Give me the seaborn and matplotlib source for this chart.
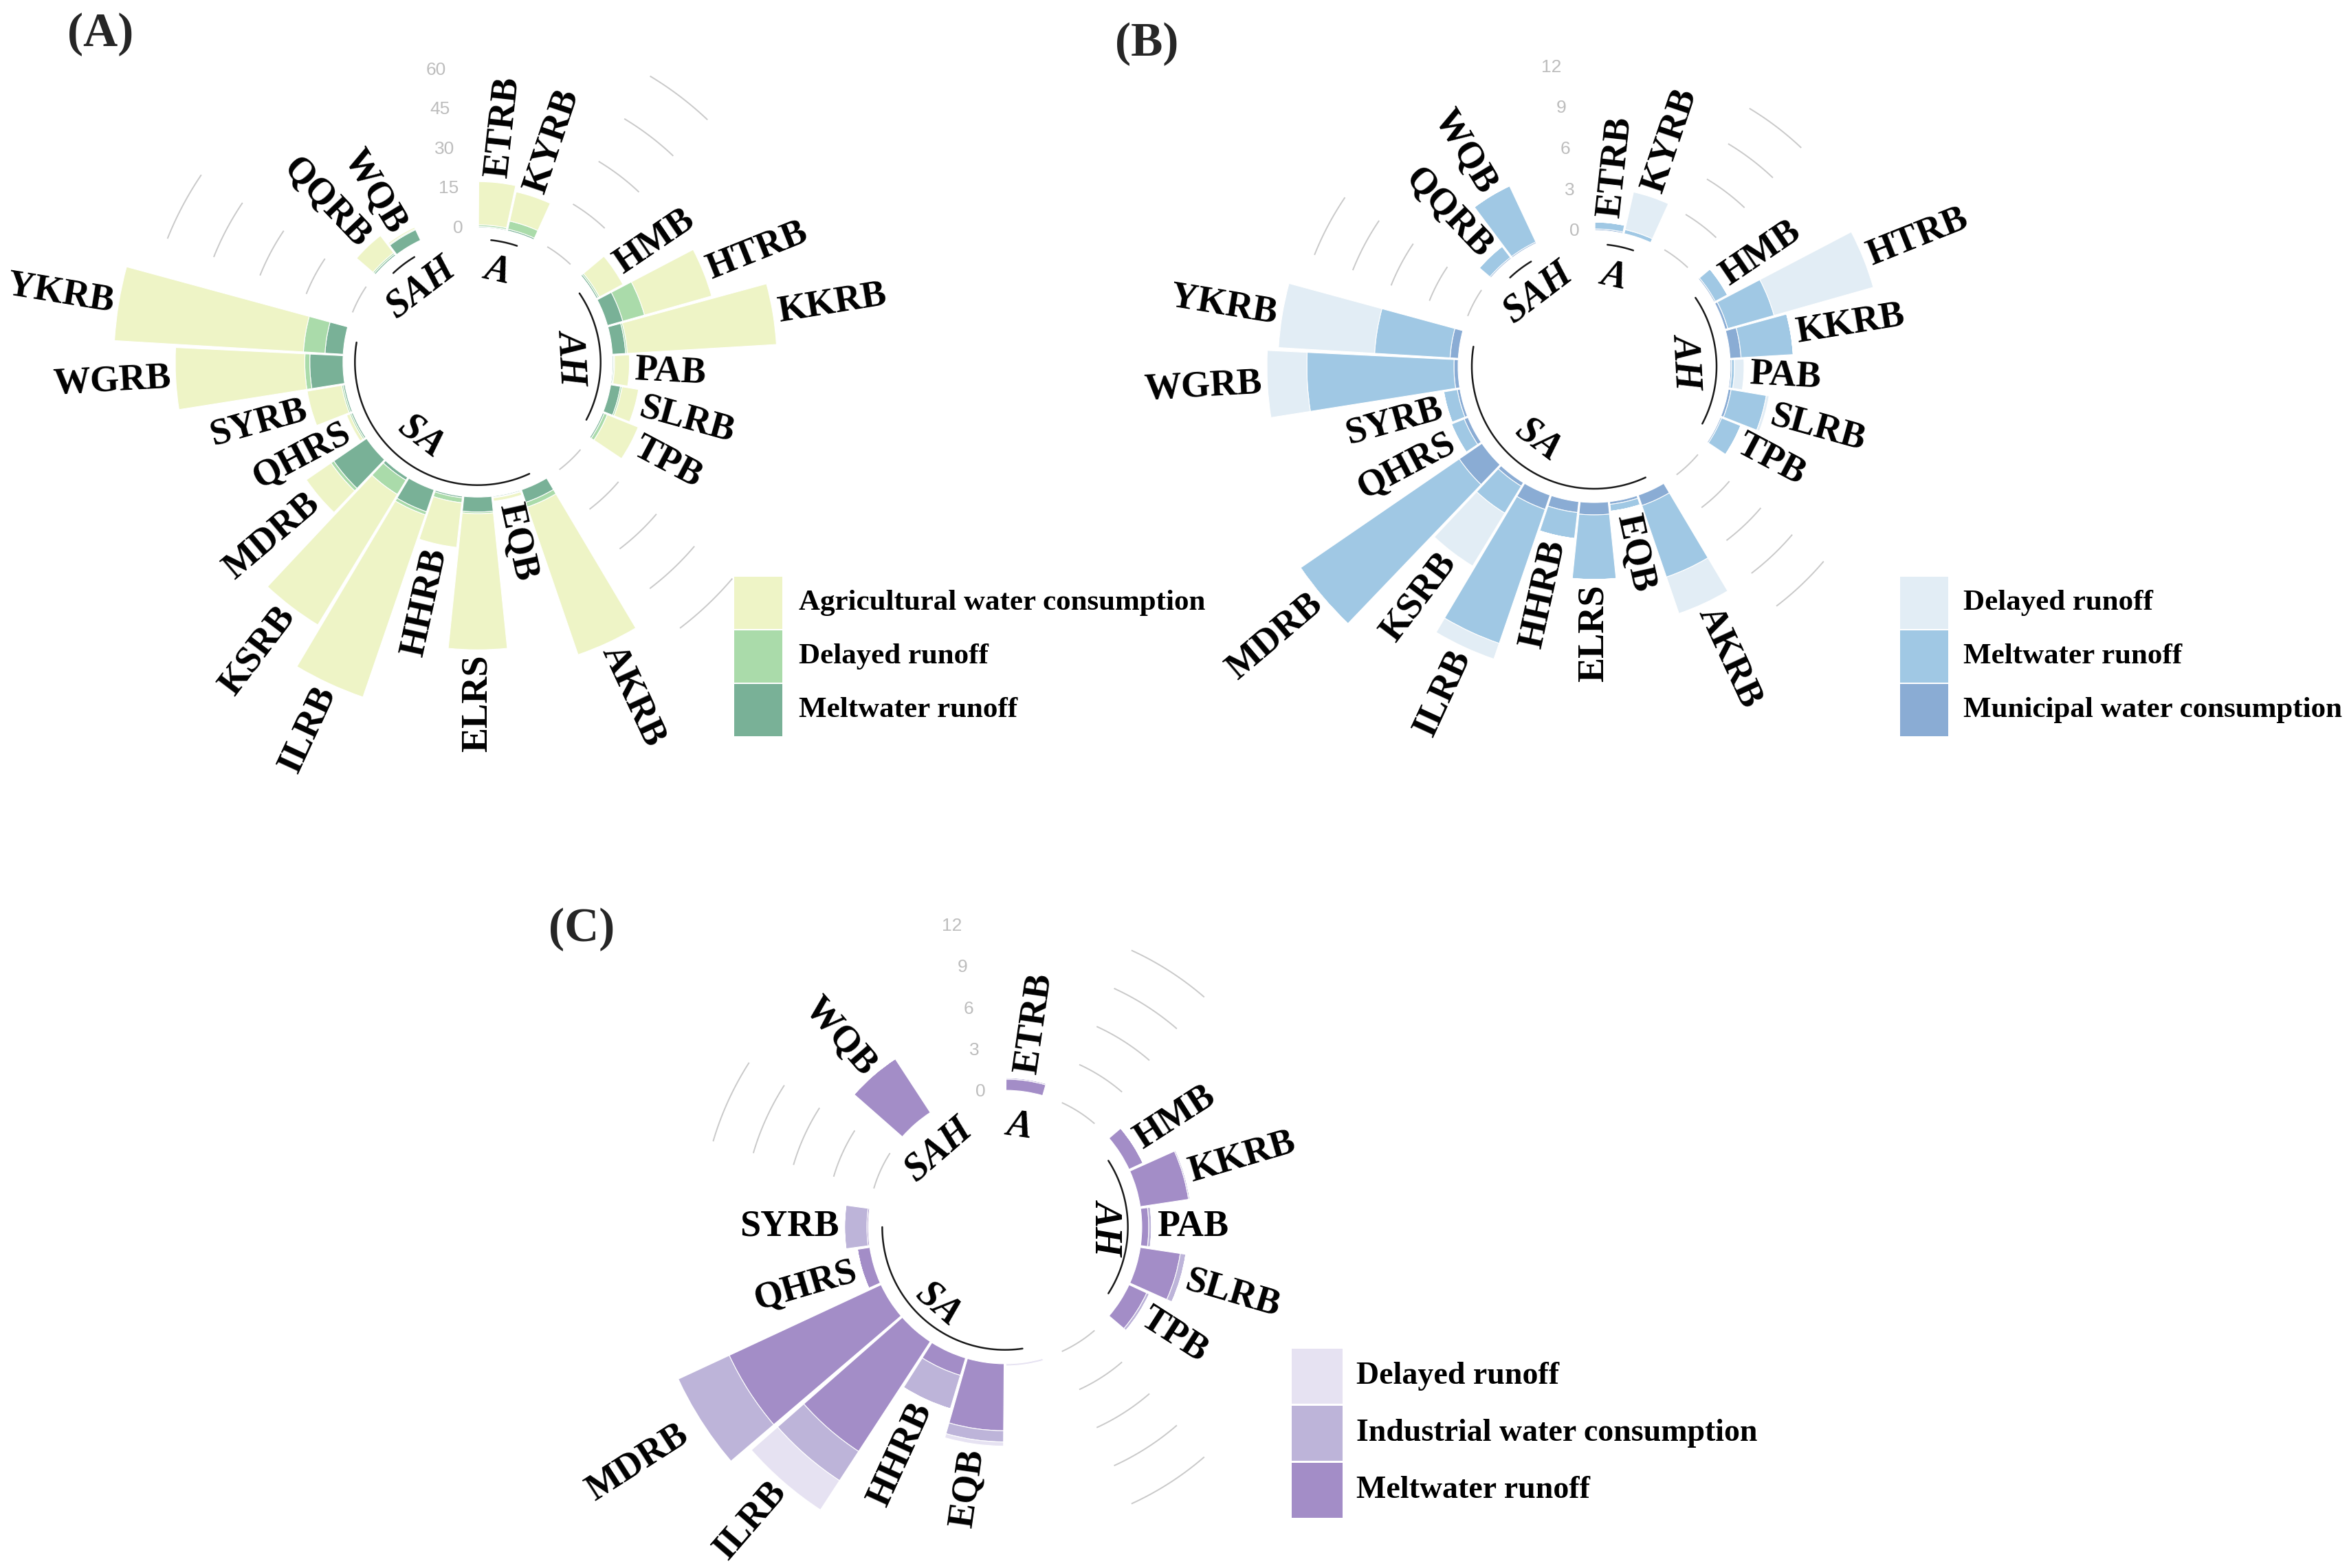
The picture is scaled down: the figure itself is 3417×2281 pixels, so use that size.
import numpy as np
import matplotlib
matplotlib.use("Agg")
import matplotlib.pyplot as plt
from matplotlib.patches import Rectangle
import seaborn as sns

# ------------------------------------------------------------------ data
basins_ab = ["ETRB", "KYRB",
             "HMB", "HTRB", "KKRB", "PAB", "SLRB", "TPB",
             "AKRB", "EQB", "ELRS", "HHRB", "ILRB", "KSRB", "MDRB", "QHRS", "SYRB", "WGRB", "YKRB",
             "QQRB", "WQB"]
groups_ab = ["A"] * 2 + ["AH"] * 6 + ["SA"] * 11 + ["SAH"] * 2

# Panel A (stacked inner -> outer)
a_meltwater = [0.3, 0.5, 0.5, 4.8, 4.0, 0.3, 3.0, 0.5,
               4.0, 0.3, 4.5, 0.5, 7.0, 1.0, 12.0, 0.5, 0.5, 10.0, 5.5,
               0.5, 3.5]
a_delayed = [0.5, 2.5, 0.5, 6.8, 0.5, 0.3, 0.5, 1.0,
             1.5, 0.2, 0.5, 1.5, 1.0, 5.0, 1.0, 0.5, 0.5, 1.5, 6.5,
             0.5, 0.3]
a_agricultural = [13.0, 9.0, 8.0, 21.0, 45.0, 4.5, 5.0, 10.0,
                  47.0, 1.0, 41.0, 13.5, 58.0, 46.0, 9.0, 1.0, 10.5, 39.0, 57.0,
                  6.5, 0.5]

# Panel B (stacked inner -> outer)
b_municipal = [0.1, 0.0, 0.1, 0.2, 0.8, 0.1, 0.2, 0.1,
               0.8, 0.2, 0.9, 0.8, 1.1, 0.3, 2.0, 0.3, 0.2, 0.3, 0.6,
               0.1, 0.1]
b_meltwater = [0.5, 0.3, 1.0, 3.5, 3.8, 0.2, 2.6, 1.5,
               5.5, 0.5, 4.7, 1.9, 10.3, 2.3, 14.0, 1.0, 1.0, 10.7, 5.5,
               1.0, 4.5]
b_delayed = [0.0, 2.8, 0.0, 7.5, 0.0, 0.7, 0.2, 0.0,
             2.8, 0.0, 0.0, 0.0, 1.2, 4.5, 0.0, 0.0, 0.0, 2.9, 7.0,
             0.0, 0.0]

# Panel C (stacked inner -> outer); the first SA slot carries no printed name
basins_c = ["ETRB", "HMB", "KKRB", "PAB", "SLRB", "TPB",
            "", "EQB", "HHRB", "ILRB", "MDRB", "QHRS", "SYRB", "WQB"]
groups_c = ["A"] + ["AH"] * 5 + ["SA"] * 7 + ["SAH"]
c_meltwater = [0.8, 1.1, 3.5, 0.5, 2.9, 1.4, 0.0, 4.8, 1.3, 9.4, 12.0, 0.9, 0.1, 4.6]
c_industrial = [0.1, 0.0, 0.1, 0.2, 0.4, 0.2, 0.0, 0.8, 2.5, 2.5, 5.0, 0.0, 1.6, 0.0]
c_delayed = [0.0, 0.0, 0.0, 0.0, 0.0, 0.0, 0.15, 0.3, 0.0, 2.5, 0.0, 0.0, 0.0, 0.0]

ticks_a = [0, 15, 30, 45, 60]
ticks_bc = [0, 3, 6, 9, 12]

col_a = {"Agricultural water consumption": "#EEF4C6",
         "Delayed runoff": "#AADBAA",
         "Meltwater runoff": "#79B197"}
col_b = {"Delayed runoff": "#E2EDF5",
         "Meltwater runoff": "#A0C8E4",
         "Municipal water consumption": "#8AACD4"}
col_c = {"Delayed runoff": "#E6E2F2",
         "Industrial water consumption": "#BDB4D9",
         "Meltwater runoff": "#A38DC7"}

# ------------------------------------------------------------------ style
sns.set_theme(style="white")
plt.rcParams["font.family"] = ["Liberation Serif", "DejaVu Serif"]
SERIF = ["Liberation Serif", "DejaVu Serif"]
SANS = ["Liberation Sans", "DejaVu Sans"]

W_PX, H_PX = 3417, 2281
fig = plt.figure(figsize=(W_PX / 100, H_PX / 100), dpi=100)
fig.patch.set_facecolor("white")


def positions(groups, empty=2):
    ids, order, spans = [], [], {}
    cur = 0
    for g in groups:
        if g not in order:
            if order:
                cur += empty
            order.append(g)
        cur += 1
        ids.append(cur)
        spans.setdefault(g, [cur, cur])[1] = cur
    return np.array(ids), cur + empty, order, spans


def panel(cx, cy, scale, rmin, rmax, basins, groups, series, ticks,
          label_off, arc_r, grp_r, tick_pos=1.0, lab_fs=39, grp_fs=40):
    R = scale * (rmax - rmin)
    rect = [(cx - R) / W_PX, 1 - (cy + R) / H_PX, 2 * R / W_PX, 2 * R / H_PX]
    ax = fig.add_axes(rect, projection="polar")
    ax.set_theta_zero_location("N")
    ax.set_theta_direction(-1)
    ax.set_ylim(rmin, rmax)
    ax.set_axis_off()

    ids, N, order, spans = positions(groups)
    step = 2 * np.pi / N
    th = lambda i: (np.asarray(i, dtype=float) - 0.5) * step
    theta = th(ids)

    # grid segments in the gaps before every group but the first
    for k in range(1, len(order)):
        a0 = th(spans[order[k - 1]][1] + 1)
        a1 = th(spans[order[k]][0] - 1)
        tt = np.linspace(a0, a1, 40)
        for v in ticks:
            ax.plot(tt, np.full_like(tt, v), color="#C9C9C9", lw=1.4,
                    solid_capstyle="butt", zorder=1)

    # stacked bars
    bottom = np.zeros(len(basins))
    for vals, col in series:
        vals = np.asarray(vals, dtype=float)
        ax.bar(theta, vals, width=0.95 * step, bottom=bottom, color=col,
               edgecolor="white", linewidth=0.8, zorder=2)
        bottom = bottom + vals

    # basin labels
    for t, name, tot in zip(theta, basins, bottom):
        if not name:
            continue
        deg = np.degrees(t)
        if deg < 180:
            rot, ha = 90 - deg, "left"
        else:
            rot, ha = 270 - deg, "right"
        ax.text(t, tot + label_off, name, rotation=rot, rotation_mode="anchor",
                ha=ha, va="center", fontsize=lab_fs, fontweight="bold",
                family=SERIF, color="black", zorder=4)

    # value labels of the radial scale
    for v in ticks:
        ax.text(th(N), v * tick_pos, str(v), ha="right", va="center", fontsize=19,
                color="#BDBDBD", family=SANS, zorder=3)

    # group baselines and names
    for g in order:
        s, e = spans[g]
        if e > s:
            tt = np.linspace(th(s), th(e), 60)
            ax.plot(tt, np.full_like(tt, arc_r), color="#1a1a1a", lw=1.8, zorder=3)
        tm = th((s + e) / 2)
        deg = np.degrees(tm)
        rot = 180 - deg if 135 < deg < 300 else -deg
        ax.text(tm, grp_r, g, rotation=rot, rotation_mode="anchor",
                ha="center", va="center", fontsize=grp_fs, fontweight="bold",
                fontstyle="italic", family=SERIF, color="black", zorder=4)
    return ax


def legend(x, tops, w, h, text_x, items, fs=31):
    for (lab, col), top in zip(items, tops):
        fig.add_artist(Rectangle((x / W_PX, 1 - (top + h) / H_PX), w / W_PX, h / H_PX,
                                 transform=fig.transFigure, facecolor=col,
                                 edgecolor="none"))
        fig.text(text_x / W_PX, 1 - (top + h / 2) / H_PX, lab, ha="left", va="center",
                 fontsize=fs, fontweight="bold", family=SERIF, color="black")


# ------------------------------------------------------------------ panel A
panel(695, 527, 4.83, -40.6, 80, basins_ab, groups_ab,
      [(a_meltwater, col_a["Meltwater runoff"]),
       (a_delayed, col_a["Delayed runoff"]),
       (a_agricultural, col_a["Agricultural water consumption"])],
      ticks_a, label_off=1.5, arc_r=-3.6, grp_r=-12.5, tick_pos=0.8)
legend(1068, [839, 917, 995], 70, 76, 1162,
       [("Agricultural water consumption", col_a["Agricultural water consumption"]),
        ("Delayed runoff", col_a["Delayed runoff"]),
        ("Meltwater runoff", col_a["Meltwater runoff"])])
fig.text(98 / W_PX, 1 - 50 / H_PX, "(A)", ha="left", va="center", fontsize=50,
         fontweight="bold", family=SERIF)

# ------------------------------------------------------------------ panel B
panel(2319, 533, 20.0, -9.9, 16, basins_ab, groups_ab,
      [(b_municipal, col_b["Municipal water consumption"]),
       (b_meltwater, col_b["Meltwater runoff"]),
       (b_delayed, col_b["Delayed runoff"])],
      ticks_bc, label_off=0.4, arc_r=-1.0, grp_r=-3.2)
legend(2764, [839, 917, 995], 70, 76, 2856,
       [("Delayed runoff", col_b["Delayed runoff"]),
        ("Meltwater runoff", col_b["Meltwater runoff"]),
        ("Municipal water consumption", col_b["Municipal water consumption"])])
fig.text(1622 / W_PX, 1 - 64 / H_PX, "(B)", ha="left", va="center", fontsize=50,
         fontweight="bold", family=SERIF)

# ------------------------------------------------------------------ panel C
panel(1462, 1785, 20.3, -9.8, 16, basins_c, groups_c,
      [(c_meltwater, col_c["Meltwater runoff"]),
       (c_industrial, col_c["Industrial water consumption"]),
       (c_delayed, col_c["Delayed runoff"])],
      ticks_bc, label_off=0.4, arc_r=-1.0, grp_r=-2.5)
legend(1879, [1962, 2045, 2128], 74, 80, 1973,
       [("Delayed runoff", col_c["Delayed runoff"]),
        ("Industrial water consumption", col_c["Industrial water consumption"]),
        ("Meltwater runoff", col_c["Meltwater runoff"])], fs=33)
fig.text(798 / W_PX, 1 - 1352 / H_PX, "(C)", ha="left", va="center", fontsize=50,
         fontweight="bold", family=SERIF)

fig.savefig("out.png", dpi=100, facecolor="white")
